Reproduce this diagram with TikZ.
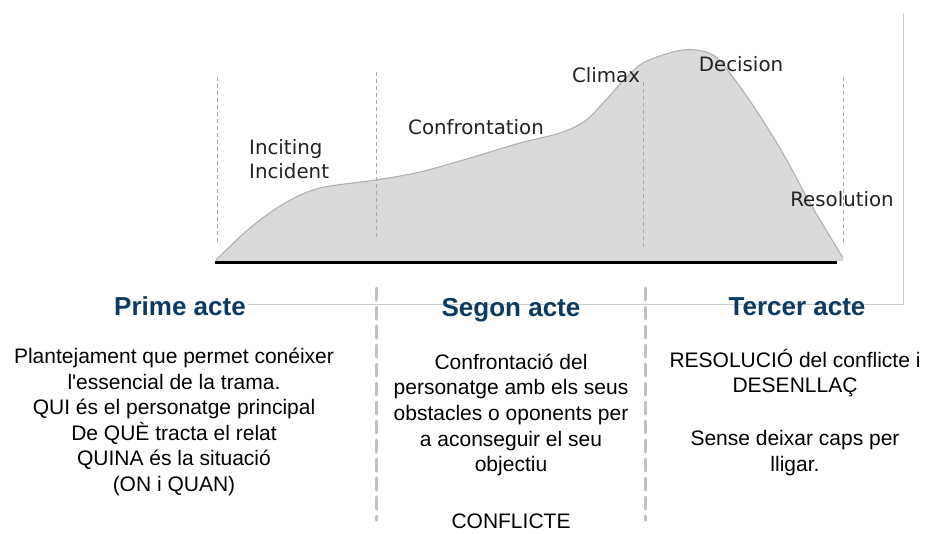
\documentclass[tikz,border=0pt]{standalone}
\usepackage{fontspec}
\setmainfont{Liberation Sans}[Ligatures=TeXOff]
\newfontfamily\labfont{DejaVu Sans}
\definecolor{headblue}{RGB}{12,58,96}
\definecolor{curvefill}{RGB}{218,218,218}
\definecolor{curveline}{RGB}{176,176,176}
\definecolor{thindash}{RGB}{170,170,170}
\definecolor{sepgray}{RGB}{192,192,192}
\definecolor{framegray}{RGB}{205,205,205}
\definecolor{labtext}{RGB}{34,34,34}
\begin{document}
\begin{tikzpicture}[x=1pt,y=-1pt,
  lab/.style={font=\labfont\fontsize{19.8}{22}\selectfont, text=labtext, inner sep=0pt},
  head/.style={font=\fontsize{26}{30}\selectfont\bfseries, text=headblue, inner sep=0pt},
  body/.style={font=\fontsize{21}{25.6}\selectfont, align=center, inner sep=0pt, text=black},
  vdash/.style={draw=thindash, line width=0.9pt, dash pattern=on 4pt off 3pt},
  sepline/.style={draw=sepgray, line width=3pt, dash pattern=on 12pt off 7pt, line cap=round},
  frameline/.style={draw=framegray, line width=1pt}]
\useasboundingbox (0,0) rectangle (928,533);

% frame of embedded picture
\coordinate (f1) at (248,304);
\coordinate (f2) at (903,304);
\coordinate (f3) at (903,13);
\draw[frameline] (f1) -- (f2) -- (f3);

% curve
\fill[curvefill] plot[smooth, tension=0.55] coordinates {(216,260) (250,228) (285,203) (320,188) (376,180) (420,172) (470,158) (520,143) (560,133) (585,121) (605,101) (625,79) (645,62) (683,50) (713,55) (735,80) (760,116) (785,157) (810,203) (843,258)} -- (843,261) -- (216,261) -- cycle;
\draw[curveline, line width=1.1pt] plot[smooth, tension=0.55] coordinates {(216,260) (250,228) (285,203) (320,188) (376,180) (420,172) (470,158) (520,143) (560,133) (585,121) (605,101) (625,79) (645,62) (683,50) (713,55) (735,80) (760,116) (785,157) (810,203) (843,258)};

% thin dashed verticals
\coordinate (d1a) at (217,77);  \coordinate (d1b) at (217,243);
\coordinate (d2a) at (376,72);  \coordinate (d2b) at (376,238);
\coordinate (d3a) at (643,82);  \coordinate (d3b) at (643,250);
\coordinate (d4a) at (843,77);  \coordinate (d4b) at (843,245);
\draw[vdash] (d1a) -- (d1b);
\draw[vdash] (d2a) -- (d2b);
\draw[vdash] (d3a) -- (d3b);
\draw[vdash] (d4a) -- (d4b);

% baseline
\coordinate (b1) at (215,262);
\coordinate (b2) at (837,262);
\draw[black, line width=3pt] (b1) -- (b2);

% curve labels
\node[lab, anchor=west] (inc1) at (249,149) {Inciting};
\node[lab, anchor=west] (inc2) at (249,171) {Incident};
\node[lab] (conf) at (476,127) {Confrontation};
\node[lab] (clim) at (606,75) {Climax};
\node[lab] (deci) at (741,64) {Decision};
\node[lab] (reso) at (842,199) {Resolution};

% separators
\coordinate (s1a) at (376,288); \coordinate (s1b) at (376,520);
\coordinate (s2a) at (645,288); \coordinate (s2b) at (645,520);
\draw[sepline] (s1a) -- (s1b);
\draw[sepline] (s2a) -- (s2b);

% headings
\node[head] (h1) at (180,306) {Prime acte};
\node[head] (h2) at (511,310) {Segon acte};
\node[head] (h3) at (797,307) {Tercer acte};

% body texts
\node[body] (t1) at (174,422) {Plantejament que permet conéixer\\l'essencial de la trama.\\QUI és el personatge principal\\De QUÈ tracta el relat\\QUINA és la situació\\(ON i QUAN)};
\node[body] (t2) at (511,415) {Confrontació del\\personatge amb els seus\\obstacles o oponents per\\a aconseguir el seu\\objectiu};
\node[body] (t3) at (511,521) {CONFLICTE};
\node[body] (t4) at (795,373) {RESOLUCIÓ del conflicte i\\DESENLLAÇ};
\node[body] (t5) at (795,453) {Sense deixar caps per\\lligar.};
\end{tikzpicture}
\end{document}
